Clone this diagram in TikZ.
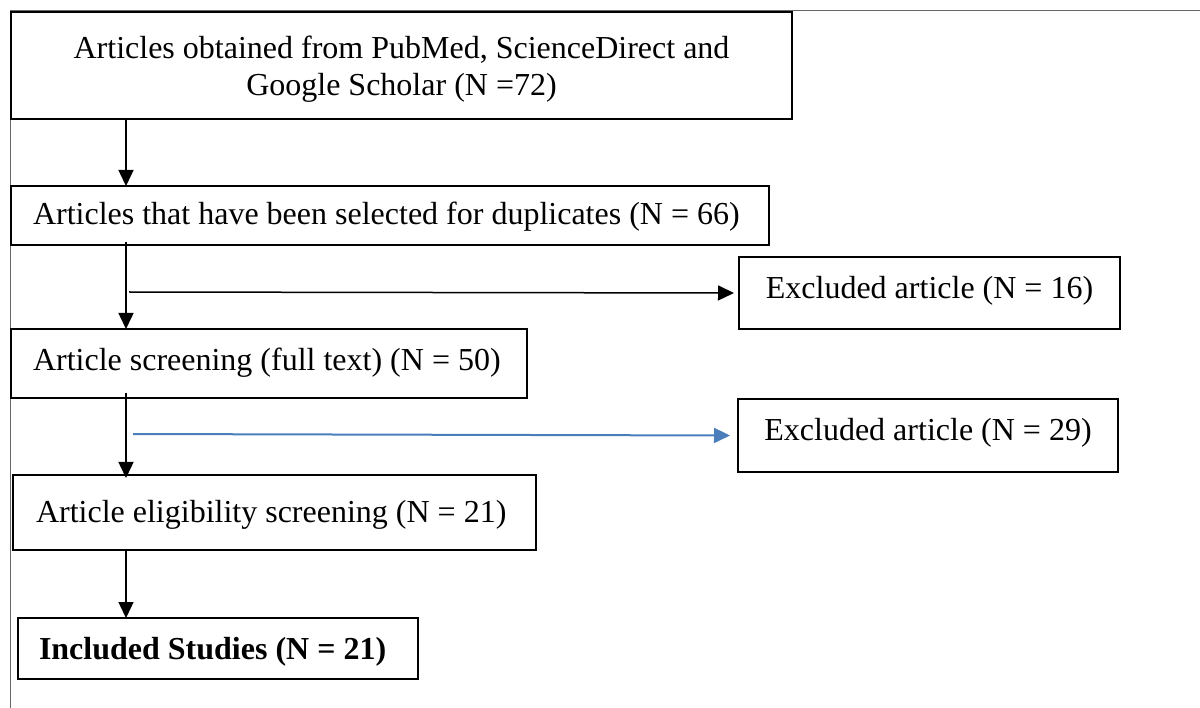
\documentclass[tikz,border=0pt]{standalone}
\usepackage{fontspec}
\setmainfont{Liberation Serif}
\usetikzlibrary{arrows.meta}
\definecolor{wordblue}{RGB}{74,126,187}
\begin{document}
\begin{tikzpicture}[x=1pt,y=-1pt,
  every node/.style={font=\fontsize{32}{37}\selectfont},
  boxl/.style={draw=black, line width=2pt, anchor=north west, inner ysep=0pt, text height=22pt},
  boxc/.style={draw=black, line width=2pt, anchor=north west, align=center, inner sep=0pt, text height=22pt},
  arr/.style={line width=1.5pt, -{Triangle[width=15pt,length=16pt]}},
  frameline/.style={draw=black!60, line width=1pt}]
\useasboundingbox (0,0) rectangle (1200,708);
% page frame lines
\coordinate (ftl) at (10,11);
\coordinate (ftr) at (1200,11);
\coordinate (fbl) at (10,708);
\draw[frameline] (ftr) -- (ftl) -- (fbl);
% boxes
\node[boxc, minimum width=781pt, minimum height=107pt, text height=61pt, text depth=0pt] (b1) at (10,11)
  {Articles obtained from PubMed, ScienceDirect and\\Google Scholar (N =72)};
\node[boxl, inner xsep=22pt, minimum height=59pt, text depth=4.8pt] (b2) at (10,185)
  {\makebox[714pt][l]{Articles that have been selected for duplicates (N = 66)}};
\node[boxl, inner xsep=22pt, minimum height=69pt, text depth=8.8pt] (b3) at (10,328)
  {\makebox[472pt][l]{Article screening (full text) (N = 50)}};
\node[boxl, inner xsep=23pt, minimum height=75pt, text depth=1.8pt] (b4) at (12,474)
  {\makebox[477pt][l]{Article eligibility screening (N = 21)}};
\node[boxl, inner xsep=21pt, minimum height=61pt, text depth=0pt] (b5) at (17,617)
  {\makebox[358pt][l]{\bfseries Included Studies (N = 21)}};
\node[boxc, minimum width=381pt, minimum height=72pt, text depth=11.8pt] (ex1) at (738,256)
  {Excluded article (N = 16)};
\node[boxc, minimum width=380pt, minimum height=73pt, text depth=11.8pt] (ex2) at (737,398)
  {Excluded article (N = 29)};
% vertical arrows
\coordinate (col) at (126,0);
\draw[arr] (b1.south -| col) -- ([yshift=-1pt]b2.north -| col);
\draw[arr] ([yshift=4pt]b2.south -| col) -- ([yshift=-1pt]b3.north -| col);
\draw[arr] ([yshift=6pt]b3.south -| col) -- ([yshift=-4pt]b4.north -| col);
\draw[arr] (b4.south -| col) -- ([yshift=-1pt]b5.north -| col);
% branch arrows
\coordinate (j1) at (129,292);
\coordinate (j2) at (133,434);
\draw[arr] (j1) -- ([xshift=-4pt]ex1.west);
\draw[arr, draw=wordblue, fill=wordblue, line width=2pt] (j2) -- ([xshift=-7pt]ex2.west);
\end{tikzpicture}
\end{document}
